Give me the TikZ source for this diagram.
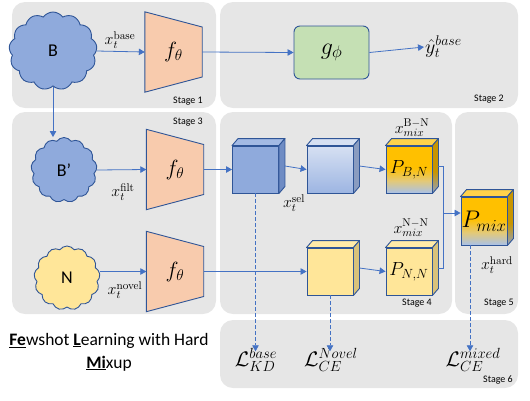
\RequirePackage{fix-cm}
\documentclass[tikz,border=0pt]{standalone}
\usepackage[no-math]{fontspec}
\setmainfont{Carlito}
\usetikzlibrary{shapes.symbols,arrows.meta,calc}
\definecolor{panel}{HTML}{E6E6E6}
\definecolor{linec}{HTML}{4472C4}
\definecolor{border}{HTML}{2F5597}
\definecolor{cloudblue}{HTML}{8FAADC}
\definecolor{yel}{HTML}{FFE699}
\definecolor{yelside}{HTML}{D9C27A}
\definecolor{yeltop}{HTML}{FFEAA8}
\definecolor{peach}{HTML}{F8CBAD}
\definecolor{gr}{HTML}{C5E0B4}
\definecolor{orng}{HTML}{FFC000}
\definecolor{blueb}{HTML}{A9C1E8}
\definecolor{blend}{HTML}{E3C978}
\definecolor{b1side}{HTML}{6F8CC4}
\definecolor{b1top}{HTML}{A3BAE4}
\definecolor{b2top}{HTML}{D6E0F2}
\definecolor{b2bot}{HTML}{9DB5E2}
\definecolor{b2side}{HTML}{8A9CC0}
\definecolor{otop}{HTML}{FFD24A}
\definecolor{oside}{HTML}{C89500}
\definecolor{osideb}{HTML}{8FA2C6}
\pgfdeclareverticalshading{pshade}{100bp}{color(0bp)=(blueb); color(25bp)=(blueb); color(38bp)=(blend); color(52bp)=(orng); color(75bp)=(orng); color(100bp)=(orng)}
\pgfdeclareverticalshading{psideshade}{100bp}{color(0bp)=(osideb); color(25bp)=(osideb); color(45bp)=(oside); color(75bp)=(oside); color(100bp)=(oside)}
\pgfdeclarelayer{panels}
\pgfdeclarelayer{shapes}
\pgfsetlayers{panels,shapes,main}
\newcommand\cubefaces[3]{%
  \draw[cubeline, fill=#2] (#1.north west) -- ($(#1.north west)+(6,-7)$) -- ($(#1.north east)+(6,-7)$) -- (#1.north east) -- cycle;
  \draw[cubeline, #3] (#1.north east) -- ($(#1.north east)+(6,-7)$) -- ($(#1.south east)+(6,-7)$) -- (#1.south east) -- cycle;
  \coordinate (#1s) at ($(#1.east)+(6,-3.5)$);
}
\begin{document}
\begin{tikzpicture}[x=1pt,y=-1pt,
  panelbox/.style={fill=panel, rounded corners=13pt},
  conn/.style={draw=linec, line width=0.8pt, -{Triangle[width=6.5pt,length=6pt]}},
  plain/.style={draw=linec, line width=0.8pt},
  dconn/.style={conn, dash pattern=on 3.5pt off 2.5pt},
  cloudbox/.style={cloud, cloud puffs=13, cloud puff arc=110, cloud ignores aspect, draw=border, line width=0.9pt, inner sep=0, font=\fontsize{18}{18}\selectfont},
  trapbox/.style={minimum width=57pt, minimum height=80pt, inner sep=0, font=\fontsize{22}{22}\selectfont},
  trapline/.style={draw=border, fill=peach, line width=0.9pt},
  cubeline/.style={draw=border, line width=0.9pt, line join=round},
  cubebox/.style={draw=border, line width=0.9pt, minimum width=46pt, minimum height=47pt, inner sep=0, font=\fontsize{19}{19}\selectfont},
  stagelbl/.style={font=\fontsize{10}{10}\selectfont, inner sep=0},
  mlbl/.style={font=\fontsize{16}{16}\selectfont, inner sep=0},
  losslbl/.style={font=\fontsize{21}{21}\selectfont, inner sep=0},
]
\useasboundingbox (0,0) rectangle (530,400);
\begin{pgfonlayer}{panels}
\fill[panelbox] (12,2) rectangle (216,108);
\fill[panelbox] (220,2) rectangle (518,108);
\fill[panelbox] (12,112) rectangle (216,314);
\fill[panelbox] (220,112) rectangle (452,314);
\fill[panelbox] (455,112) rectangle (518,314);
\fill[panelbox] (220,320) rectangle (518,388);
\end{pgfonlayer}
\node[stagelbl] (s1) at (188,101) {Stage 1};
\node[stagelbl] (s2) at (489,99) {Stage 2};
\node[stagelbl] (s3) at (188,122) {Stage 3};
\node[stagelbl] (s4) at (417,303) {Stage 4};
\node[stagelbl] (s5) at (499,303) {Stage 5};
\node[stagelbl] (s6) at (498,380) {Stage 6};
% clouds
\node[cloudbox, fill=cloudblue, minimum width=88pt, minimum height=78pt] (B) at (53,51) {B};
\node[cloudbox, fill=cloudblue, minimum width=66pt, minimum height=65pt] (Bp) at (64,170) {B’};
\node[cloudbox, fill=yel, minimum width=66pt, minimum height=64pt] (N) at (67,278) {N};
% trapezoids
\node[trapbox] (f1) at (173.5,52) {$f_\theta$};
\node[trapbox] (f2) at (175,169.5) {$f_\theta$};
\node[trapbox] (f3) at (175,271.5) {$f_\theta$};
\begin{pgfonlayer}{shapes}
\foreach \f in {f1,f2,f3}{
  \draw[trapline] (\f.north west) -- ($(\f.east)+(0,-25)$) -- ($(\f.east)+(0,25)$) -- (\f.south west) -- cycle;
}
\end{pgfonlayer}
% g phi
\node[draw=border, fill=gr, line width=0.9pt, rounded corners=6pt, minimum width=75pt, minimum height=53pt, font=\fontsize{24}{24}\selectfont] (g) at (331.5,52.5) {$g_\phi$};
\node[anchor=west, inner sep=1pt, font=\fontsize{20}{20}\selectfont] (yhat) at (424,47) {$\hat{y}_t^{base}$};
% cubes
\node[cubebox, fill=cloudblue] (c1) at (255.5,169.5) {};
\cubefaces{c1}{b1top}{fill=b1side}
\node[cubebox, top color=b2top, bottom color=b2bot] (c2) at (330,169.5) {};
\cubefaces{c2}{b2top}{fill=b2side}
\node[cubebox, shading=pshade] (c3) at (409,169.5) {$P_{B,N}$};
\cubefaces{c3}{otop}{shading=psideshade}
\node[cubebox, fill=yel] (cy) at (330,271.5) {};
\cubefaces{cy}{yeltop}{fill=yelside}
\node[cubebox, fill=yel] (pnn) at (409,271.5) {$P_{N,N}$};
\cubefaces{pnn}{yeltop}{fill=yelside}
\node[cubebox, shading=pshade, minimum height=48pt, font=\fontsize{24}{24}\selectfont] (pmix) at (484,221) {$P_{mix}$};
\cubefaces{pmix}{otop}{shading=psideshade}
% labels
\node[mlbl] (lb) at (120,40) {$x_t^{\mathrm{base}}$};
\node[mlbl] (lf) at (123,192) {$x_t^{\mathrm{filt}}$};
\node[mlbl] (ln) at (125,290) {$x_t^{\mathrm{novel}}$};
\node[mlbl] (ls) at (294,203) {$x_t^{\mathrm{sel}}$};
\node[mlbl] (lbn) at (412,128) {$x_{mix}^{\mathrm{B-N}}$};
\node[mlbl] (lnn) at (411,228) {$x_{mix}^{\mathrm{N-N}}$};
\node[mlbl] (lh) at (497,265) {$x_t^{\mathrm{hard}}$};
% losses
\node[losslbl] (lkd) at (256,360) {$\mathcal{L}_{KD}^{base}$};
\node[losslbl] (lce) at (331,360) {$\mathcal{L}_{CE}^{Novel}$};
\node[losslbl] (lmx) at (473,360) {$\mathcal{L}_{CE}^{mixed}$};
% title
\node[align=center, font=\fontsize{17.5}{23}\selectfont, inner sep=0] (title) at (109,352) {\underline{\textbf{Fe}}wshot \underline{\textbf{L}}earning with Hard\\\underline{\textbf{Mi}}xup};
% connectors
\draw[conn] (B.east) -- (f1.west);
\draw[conn] (f1.east) -- (g.west);
\draw[conn] (g.east) -- (yhat.west);
\draw[conn] (B.south) -- (B.south |- Bp.north);
\draw[conn] (Bp.east) -- (f2.west);
\draw[conn] (N.east |- f3.west) -- (f3.west);
\draw[conn] (f2.east) -- (c1.west);
\draw[conn] (c1s) -- (c2.west);
\draw[conn] (c2s) -- (c3.west);
\draw[conn] (f3.east) -- (cy.west);
\draw[conn] (cys) -- (pnn.west);
\coordinate (j) at (443,213);
\draw[plain] (c3s) -| (j);
\draw[plain] (pnns) -| (j);
\draw[conn] (j) -- (j -| pmix.west);
\draw[dconn] (c1.south) -- ([yshift=-3pt]c1.south |- lkd.north);
\draw[dconn] (cy.south) -- ([yshift=-3pt]cy.south |- lce.north);
\draw[dconn] ([xshift=-14pt]pmix.south) -- ([xshift=-14pt,yshift=-3pt]pmix.south |- lmx.north);
\end{tikzpicture}
\end{document}
